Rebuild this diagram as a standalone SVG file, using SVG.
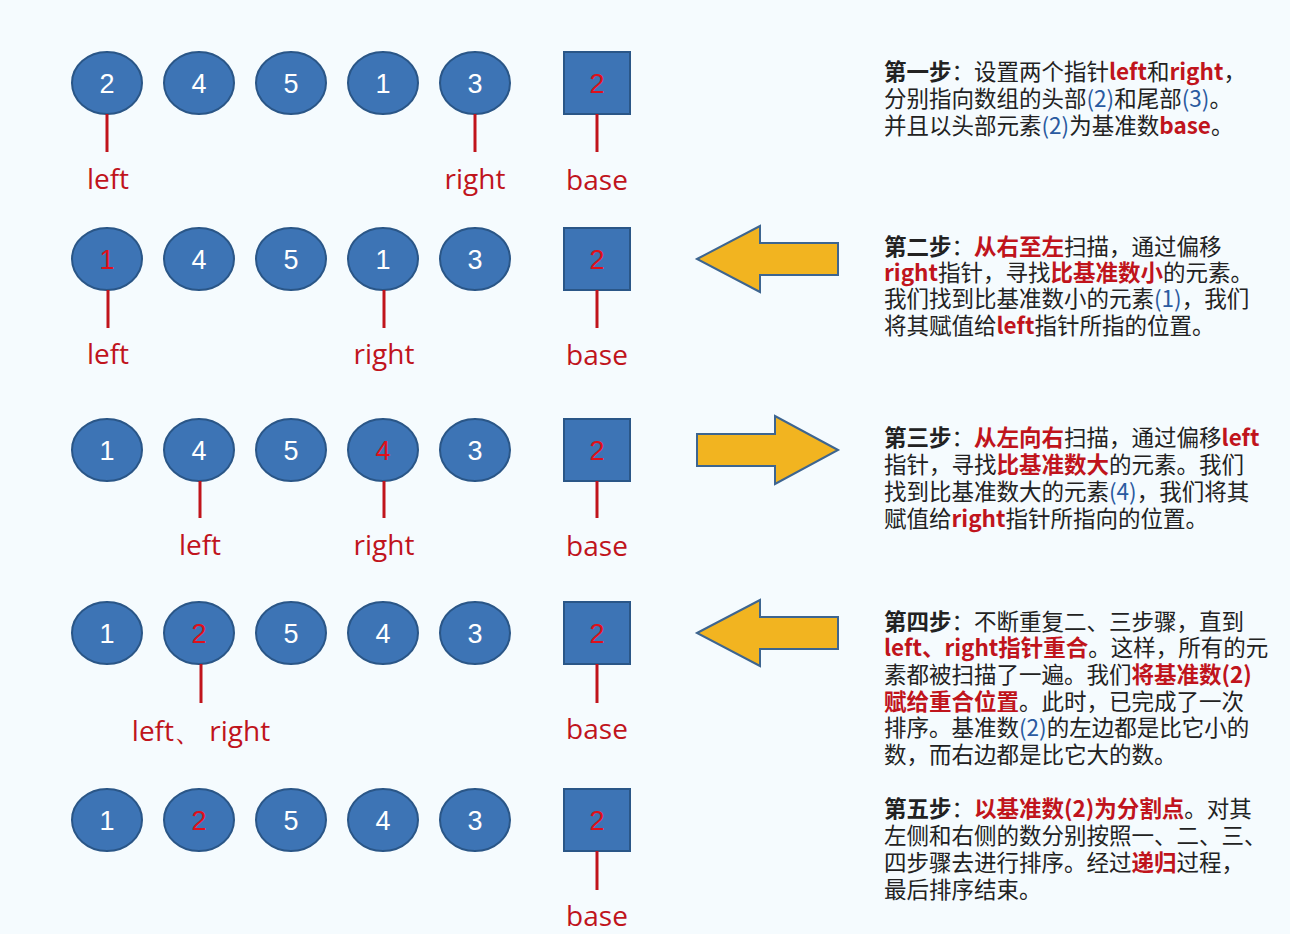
<svg xmlns="http://www.w3.org/2000/svg" width="1290" height="934" viewBox="0 0 1290 934">
<style>
.sh{fill:#3d74b5;stroke:#2a5687;stroke-width:2}
.v{font-family:"Liberation Sans",Arial,sans-serif;font-size:27px;fill:#fff;text-anchor:middle}
.r{fill:#e0101a}
.lab{font-family:"Open Sans","Liberation Sans",sans-serif;font-size:28px;fill:#c0141c;text-anchor:middle}
#connectors line{stroke:#c0141c;stroke-width:3}
.arr{fill:#f2b420;stroke:#3d6590;stroke-width:2}
.t{font-family:"Noto Sans CJK SC",sans-serif;font-size:22.5px;fill:#222}
.b{font-weight:bold}
.h{font-weight:bold;fill:#c0141c}
.p{fill:#2a5aa0}
</style>
<rect width="1290" height="934" fill="#f5fbfe"/>
<defs>
<g id="row" fill="#3d74b5" stroke="#2a5687" stroke-width="2">
<ellipse cx="107" cy="0" rx="35" ry="31"/><ellipse cx="199" cy="0" rx="35" ry="31"/><ellipse cx="291" cy="0" rx="35" ry="31"/><ellipse cx="383" cy="0" rx="35" ry="31"/><ellipse cx="475" cy="0" rx="35" ry="31"/><rect x="564" y="-31" width="66" height="62"/>
</g>
</defs>
<g id="row1" transform="translate(0,83)"><use href="#row"/>
<text class="v" y="10"><tspan x="107">2</tspan><tspan x="199">4</tspan><tspan x="291">5</tspan><tspan x="383">1</tspan><tspan x="475">3</tspan><tspan x="597" class="r">2</tspan></text></g>
<g id="row2" transform="translate(0,259)"><use href="#row"/>
<text class="v" y="10"><tspan x="107" class="r">1</tspan><tspan x="199">4</tspan><tspan x="291">5</tspan><tspan x="383">1</tspan><tspan x="475">3</tspan><tspan x="597" class="r">2</tspan></text></g>
<g id="row3" transform="translate(0,450)"><use href="#row"/>
<text class="v" y="10"><tspan x="107">1</tspan><tspan x="199">4</tspan><tspan x="291">5</tspan><tspan x="383" class="r">4</tspan><tspan x="475">3</tspan><tspan x="597" class="r">2</tspan></text></g>
<g id="row4" transform="translate(0,633)"><use href="#row"/>
<text class="v" y="10"><tspan x="107">1</tspan><tspan x="199" class="r">2</tspan><tspan x="291">5</tspan><tspan x="383">4</tspan><tspan x="475">3</tspan><tspan x="597" class="r">2</tspan></text></g>
<g id="row5" transform="translate(0,820)"><use href="#row"/>
<text class="v" y="10"><tspan x="107">1</tspan><tspan x="199" class="r">2</tspan><tspan x="291">5</tspan><tspan x="383">4</tspan><tspan x="475">3</tspan><tspan x="597" class="r">2</tspan></text></g>
<g id="connectors">
<line x1="107" y1="114" x2="107" y2="152"/><line x1="475" y1="114" x2="475" y2="152"/><line x1="597" y1="114" x2="597" y2="152"/>
<line x1="108" y1="290" x2="108" y2="328"/><line x1="384" y1="290" x2="384" y2="328"/><line x1="597" y1="290" x2="597" y2="328"/>
<line x1="200" y1="481" x2="200" y2="518"/><line x1="384" y1="481" x2="384" y2="518"/><line x1="597" y1="481" x2="597" y2="518"/>
<line x1="201" y1="664" x2="201" y2="703"/><line x1="597" y1="664" x2="597" y2="703"/>
<line x1="597" y1="851" x2="597" y2="890"/>
</g>
<g id="labels" class="lab">
<text x="108" y="189">left</text><text x="475" y="189">right</text><text x="597" y="190">base</text>
<text x="108" y="364">left</text><text x="384" y="364">right</text><text x="597" y="365">base</text>
<text x="200" y="555">left</text><text x="384" y="555">right</text><text x="597" y="556">base</text>
<text x="201" y="741">left、 right</text><text x="597" y="739">base</text>
<text x="597" y="926">base</text>
</g>
<g id="arrows">
<path class="arr" d="M697 259 L760 226 L760 243 L838 243 L838 275 L760 275 L760 292 Z"/>
<path class="arr" d="M838 450 L775 416 L775 434 L697 434 L697 466 L775 466 L775 484 Z"/>
<path class="arr" d="M697 633 L760 600 L760 617 L838 617 L838 649 L760 649 L760 666 Z"/>
</g>
<g id="step1" class="t">
<text x="884" y="80"><tspan class="b">第一步</tspan>：设置两个指针<tspan class="h">left</tspan>和<tspan class="h">right</tspan>，</text>
<text x="884" y="107">分别指向数组的头部<tspan class="p">(2)</tspan>和尾部<tspan class="p">(3)</tspan>。</text>
<text x="884" y="134">并且以头部元素<tspan class="p">(2)</tspan>为基准数<tspan class="h">base</tspan>。</text>
</g>
<g id="step2" class="t">
<text x="884" y="255"><tspan class="b">第二步</tspan>：<tspan class="h">从右至左</tspan>扫描，通过偏移</text>
<text x="884" y="281"><tspan class="h">right</tspan>指针，寻找<tspan class="h">比基准数小</tspan>的元素。</text>
<text x="884" y="307">我们找到比基准数小的元素<tspan class="p">(1)</tspan>，我们</text>
<text x="884" y="334">将其赋值给<tspan class="h">left</tspan>指针所指的位置。</text>
</g>
<g id="step3" class="t">
<text x="884" y="446"><tspan class="b">第三步</tspan>：<tspan class="h">从左向右</tspan>扫描，通过偏移<tspan class="h">left</tspan></text>
<text x="884" y="473">指针，寻找<tspan class="h">比基准数大</tspan>的元素。我们</text>
<text x="884" y="500">找到比基准数大的元素<tspan class="p">(4)</tspan>，我们将其</text>
<text x="884" y="527">赋值给<tspan class="h">right</tspan>指针所指向的位置。</text>
</g>
<g id="step4" class="t">
<text x="884" y="630"><tspan class="b">第四步</tspan>：不断重复二、三步骤，直到</text>
<text x="884" y="656"><tspan class="h">left、right指针重合</tspan>。这样，所有的元</text>
<text x="884" y="683">素都被扫描了一遍。我们<tspan class="h">将基准数(2)</tspan></text>
<text x="884" y="710"><tspan class="h">赋给重合位置</tspan>。此时，已完成了一次</text>
<text x="884" y="736">排序。基准数<tspan class="p">(2)</tspan>的左边都是比它小的</text>
<text x="884" y="763">数，而右边都是比它大的数。</text>
</g>
<g id="step5" class="t">
<text x="884" y="817"><tspan class="b">第五步</tspan>：<tspan class="h">以基准数(2)为分割点</tspan>。对其</text>
<text x="884" y="844">左侧和右侧的数分别按照一、二、三、</text>
<text x="884" y="871">四步骤去进行排序。经过<tspan class="h">递归</tspan>过程，</text>
<text x="884" y="898">最后排序结束。</text>
</g>
</svg>
